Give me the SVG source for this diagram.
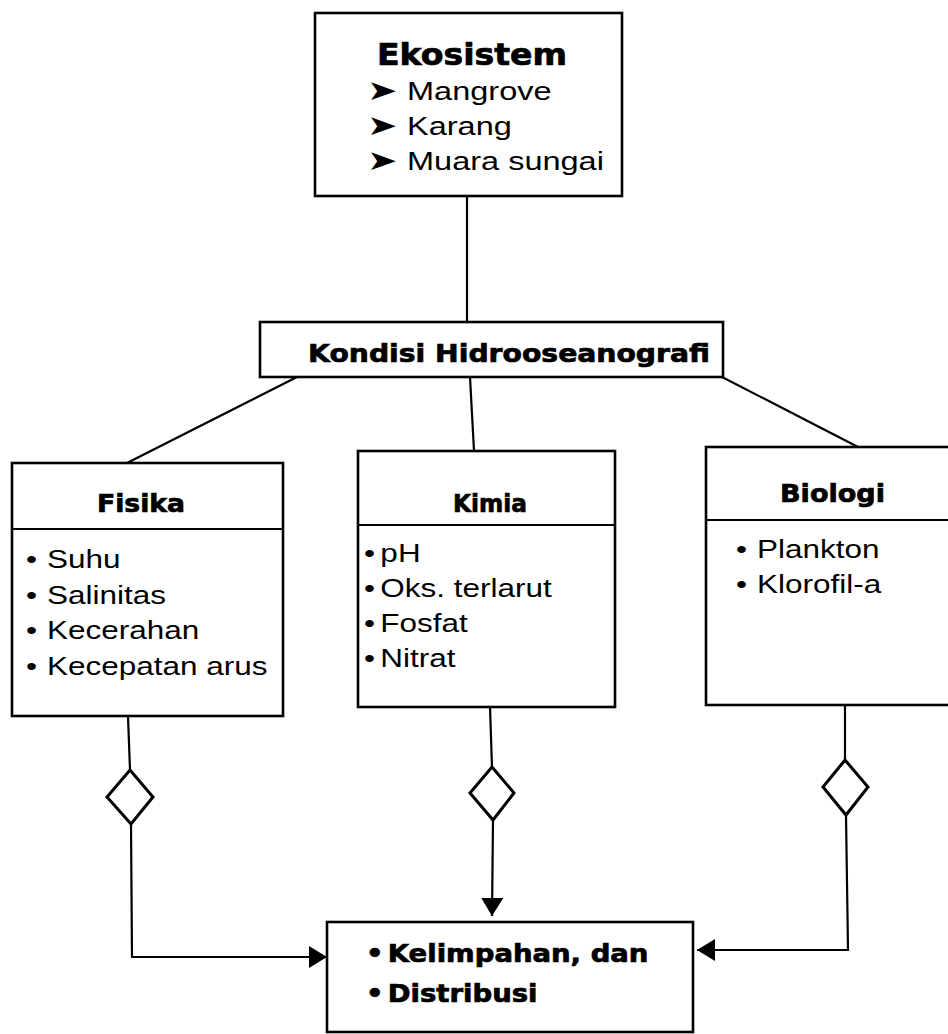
<svg xmlns="http://www.w3.org/2000/svg" width="948" height="1034" viewBox="0 0 948 1034">
<style>
.box{fill:#fff;stroke:#000;stroke-width:2.6}
.ln{fill:none;stroke:#000;stroke-width:2.2}
.dm{fill:#fff;stroke:#000;stroke-width:3}
.b{font-family:"DejaVu Sans","Liberation Sans",sans-serif;font-weight:bold;fill:#000;stroke:#000;stroke-width:0.7}
.r{font-family:"Liberation Sans",Arial,sans-serif;font-size:25px;fill:#000}
.arr{font-family:"DejaVu Sans",sans-serif;font-size:28px}
</style>
<defs>
<marker id="ah" markerUnits="userSpaceOnUse" markerWidth="20" markerHeight="22" viewBox="0 0 20 22" refX="18" refY="11" orient="auto">
<path d="M0,0 L18,11 L0,22 Z" fill="#000"/>
</marker>
</defs>
<rect width="948" height="1034" fill="#fff"/>

<g id="connectors">
<line class="ln" x1="467" y1="196" x2="467" y2="322"/>
<line class="ln" x1="297" y1="377" x2="127" y2="463"/>
<line class="ln" x1="470" y1="377" x2="474" y2="451"/>
<line class="ln" x1="722" y1="377" x2="858" y2="447"/>
<line class="ln" x1="128" y1="716" x2="130" y2="770"/>
<polyline class="ln" points="131,824 132,957 327,957" marker-end="url(#ah)"/>
<line class="ln" x1="490" y1="707" x2="492" y2="767"/>
<polyline class="ln" points="493,820 492,916" marker-end="url(#ah)"/>
<line class="ln" x1="845" y1="705" x2="845" y2="760"/>
<polyline class="ln" points="846,815 848,950 697,950" marker-end="url(#ah)"/>
<polygon class="dm" points="130,770 153,797 131,824 107,797"/>
<polygon class="dm" points="492,767 514,793 493,820 470,793"/>
<polygon class="dm" points="845,760 868,787 846,815 823,787"/>
</g>

<g id="ekosistem">
<rect class="box" x="315" y="13" width="307" height="183"/>
<text class="b" x="377" y="65" font-size="30" textLength="190" lengthAdjust="spacingAndGlyphs">Ekosistem</text>
<text class="r" font-size="26" transform="translate(367 100) scale(1.3 1)"><tspan class="arr">➤</tspan><tspan x="30.8">Mangrove</tspan></text>
<text class="r" font-size="26" transform="translate(367 135) scale(1.3 1)"><tspan class="arr">➤</tspan><tspan x="30.8">Karang</tspan></text>
<text class="r" font-size="26" transform="translate(367 170) scale(1.3 1)"><tspan class="arr">➤</tspan><tspan x="30.8">Muara sungai</tspan></text>
</g>

<g id="kondisi">
<rect class="box" x="260" y="322" width="463" height="55"/>
<text class="b" x="308" y="362" font-size="25" textLength="402" lengthAdjust="spacingAndGlyphs">Kondisi Hidrooseanografi</text>
</g>

<g id="fisika">
<rect class="box" x="12" y="463" width="271" height="253"/>
<line class="ln" x1="12" y1="529" x2="283" y2="529"/>
<text class="b" x="97" y="512" font-size="25" textLength="88" lengthAdjust="spacingAndGlyphs">Fisika</text>
<text class="r" transform="translate(26 568) scale(1.26 1)"><tspan>•</tspan><tspan x="16.7">Suhu</tspan></text>
<text class="r" transform="translate(26 604) scale(1.26 1)"><tspan>•</tspan><tspan x="16.7">Salinitas</tspan></text>
<text class="r" transform="translate(26 639) scale(1.26 1)"><tspan>•</tspan><tspan x="16.7">Kecerahan</tspan></text>
<text class="r" transform="translate(26 675) scale(1.26 1)"><tspan>•</tspan><tspan x="16.7">Kecepatan arus</tspan></text>
</g>

<g id="kimia">
<rect class="box" x="358" y="451" width="257" height="256"/>
<line class="ln" x1="358" y1="525" x2="615" y2="525"/>
<text class="b" x="453" y="512" font-size="25" textLength="74" lengthAdjust="spacingAndGlyphs">Kimia</text>
<text class="r" transform="translate(364 562) scale(1.26 1)"><tspan>•</tspan><tspan x="13">pH</tspan></text>
<text class="r" transform="translate(364 597) scale(1.26 1)"><tspan>•</tspan><tspan x="13">Oks. terlarut</tspan></text>
<text class="r" transform="translate(364 632) scale(1.26 1)"><tspan>•</tspan><tspan x="13">Fosfat</tspan></text>
<text class="r" transform="translate(364 667) scale(1.26 1)"><tspan>•</tspan><tspan x="13">Nitrat</tspan></text>
</g>

<g id="biologi">
<rect class="box" x="706" y="447" width="262" height="258"/>
<line class="ln" x1="706" y1="520" x2="948" y2="520"/>
<text class="b" x="780" y="502" font-size="25" textLength="105" lengthAdjust="spacingAndGlyphs">Biologi</text>
<text class="r" transform="translate(736 558) scale(1.26 1)"><tspan>•</tspan><tspan x="16.7">Plankton</tspan></text>
<text class="r" transform="translate(736 593) scale(1.26 1)"><tspan>•</tspan><tspan x="16.7">Klorofil-a</tspan></text>
</g>

<g id="hasil">
<rect class="box" x="327" y="922" width="366" height="110"/>
<text class="b" font-size="24" transform="translate(366 962) scale(1.146 1)"><tspan>•</tspan><tspan x="19">Kelimpahan, dan</tspan></text>
<text class="b" font-size="24" transform="translate(366 1002) scale(1.146 1)"><tspan>•</tspan><tspan x="19">Distribusi</tspan></text>
</g>
</svg>
